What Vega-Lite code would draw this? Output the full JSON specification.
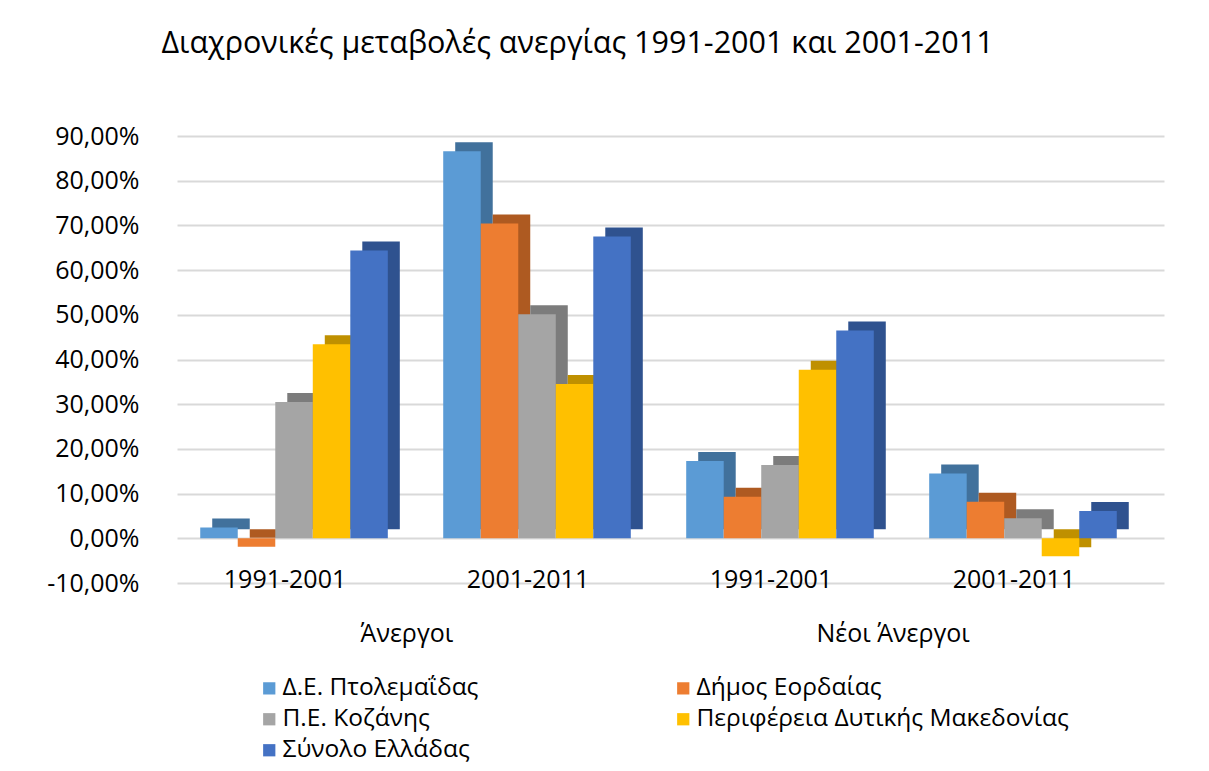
{
  "$schema": "https://vega.github.io/schema/vega-lite/v6.json",
  "autosize": {"type": "none"},
  "width": 987,
  "height": 447,
  "padding": {"left": 165, "top": 136, "right": 57, "bottom": 188},
  "background": "white",
  "config": {
    "font": "Open Sans",
    "view": {"stroke": null},
    "axis": {"labelFont": "Open Sans", "labelColor": "#000000"}
  },
  "title": {
    "text": "Διαχρονικές μεταβολές ανεργίας 1991-2001 και 2001-2011",
    "anchor": "middle",
    "frame": "group",
    "dx": -81,
    "offset": 65,
    "fontSize": 30.5,
    "fontWeight": "normal",
    "color": "#000000",
    "font": "Open Sans"
  },
  "data": {
    "values": [
      {"group": "Άνεργοι", "cat": "Άνεργοι 1991-2001", "series": "Δ.Ε. Πτολεμαΐδας", "value": 0.024},
      {"group": "Άνεργοι", "cat": "Άνεργοι 1991-2001", "series": "Δήμος Εορδαίας", "value": -0.019},
      {"group": "Άνεργοι", "cat": "Άνεργοι 1991-2001", "series": "Π.Ε. Κοζάνης", "value": 0.305},
      {"group": "Άνεργοι", "cat": "Άνεργοι 1991-2001", "series": "Περιφέρεια Δυτικής Μακεδονίας", "value": 0.434},
      {"group": "Άνεργοι", "cat": "Άνεργοι 1991-2001", "series": "Σύνολο Ελλάδας", "value": 0.644},
      {"group": "Άνεργοι", "cat": "Άνεργοι 2001-2011", "series": "Δ.Ε. Πτολεμαΐδας", "value": 0.866},
      {"group": "Άνεργοι", "cat": "Άνεργοι 2001-2011", "series": "Δήμος Εορδαίας", "value": 0.704},
      {"group": "Άνεργοι", "cat": "Άνεργοι 2001-2011", "series": "Π.Ε. Κοζάνης", "value": 0.501},
      {"group": "Άνεργοι", "cat": "Άνεργοι 2001-2011", "series": "Περιφέρεια Δυτικής Μακεδονίας", "value": 0.345},
      {"group": "Άνεργοι", "cat": "Άνεργοι 2001-2011", "series": "Σύνολο Ελλάδας", "value": 0.675},
      {"group": "Νέοι Άνεργοι", "cat": "Νέοι Άνεργοι 1991-2001", "series": "Δ.Ε. Πτολεμαΐδας", "value": 0.173},
      {"group": "Νέοι Άνεργοι", "cat": "Νέοι Άνεργοι 1991-2001", "series": "Δήμος Εορδαίας", "value": 0.093},
      {"group": "Νέοι Άνεργοι", "cat": "Νέοι Άνεργοι 1991-2001", "series": "Π.Ε. Κοζάνης", "value": 0.164},
      {"group": "Νέοι Άνεργοι", "cat": "Νέοι Άνεργοι 1991-2001", "series": "Περιφέρεια Δυτικής Μακεδονίας", "value": 0.377},
      {"group": "Νέοι Άνεργοι", "cat": "Νέοι Άνεργοι 1991-2001", "series": "Σύνολο Ελλάδας", "value": 0.465},
      {"group": "Νέοι Άνεργοι", "cat": "Νέοι Άνεργοι 2001-2011", "series": "Δ.Ε. Πτολεμαΐδας", "value": 0.145},
      {"group": "Νέοι Άνεργοι", "cat": "Νέοι Άνεργοι 2001-2011", "series": "Δήμος Εορδαίας", "value": 0.082},
      {"group": "Νέοι Άνεργοι", "cat": "Νέοι Άνεργοι 2001-2011", "series": "Π.Ε. Κοζάνης", "value": 0.045},
      {"group": "Νέοι Άνεργοι", "cat": "Νέοι Άνεργοι 2001-2011", "series": "Περιφέρεια Δυτικής Μακεδονίας", "value": -0.040},
      {"group": "Νέοι Άνεργοι", "cat": "Νέοι Άνεργοι 2001-2011", "series": "Σύνολο Ελλάδας", "value": 0.061}
    ]
  },
  "layer": [
    {
      "layer": [
        {
          "mark": {"type": "bar", "yOffset": -9},
          "encoding": {
            "x": {"field": "cat", "type": "nominal", "sort": null,
                  "scale": {"paddingInner": 0.228, "paddingOuter": 0.145, "range": [12, 999]},
                  "axis": null},
            "xOffset": {"field": "series", "type": "nominal",
                        "sort": ["Δ.Ε. Πτολεμαΐδας", "Δήμος Εορδαίας", "Π.Ε. Κοζάνης", "Περιφέρεια Δυτικής Μακεδονίας", "Σύνολο Ελλάδας"],
                        "scale": {"paddingInner": 0, "paddingOuter": 0}},
            "y": {"field": "value", "type": "quantitative",
                  "scale": {"domain": [-0.1, 0.9], "nice": false, "zero": true}},
            "color": {"field": "series", "type": "nominal", "legend": null,
                      "scale": {"domain": ["Δ.Ε. Πτολεμαΐδας", "Δήμος Εορδαίας", "Π.Ε. Κοζάνης", "Περιφέρεια Δυτικής Μακεδονίας", "Σύνολο Ελλάδας"],
                                "range": ["#41719C", "#AE5A21", "#7C7C7C", "#BF9000", "#2F528F"]}}
          }
        },
        {
          "mark": {"type": "bar"},
          "encoding": {
            "x": {"field": "cat", "type": "nominal", "sort": null,
                  "scale": {"paddingInner": 0.228, "paddingOuter": 0.145},
                  "axis": {"title": null, "orient": "bottom", "offset": -17, "domain": false, "ticks": false,
                           "labelAngle": 0, "labelFontSize": 25, "labelPadding": 1, "labelOffset": -9,
                           "labelExpr": "slice(datum.label, -9)"}},
            "xOffset": {"field": "series", "type": "nominal",
                        "sort": ["Δ.Ε. Πτολεμαΐδας", "Δήμος Εορδαίας", "Π.Ε. Κοζάνης", "Περιφέρεια Δυτικής Μακεδονίας", "Σύνολο Ελλάδας"],
                        "scale": {"paddingInner": 0, "paddingOuter": 0}},
            "y": {"field": "value", "type": "quantitative",
                  "scale": {"domain": [-0.1, 0.9], "nice": false, "zero": true},
                  "axis": {"title": null, "values": [-0.1, 0, 0.1, 0.2, 0.3, 0.4, 0.5, 0.6, 0.7, 0.8, 0.9],
                           "labelExpr": "replace(replace(format(datum.value, '.2%'), '.', ','), '−', '-')",
                           "labelFontSize": 25, "labelPadding": 26, "domain": false, "ticks": false,
                           "gridColor": "#D9D9D9", "gridWidth": 2}},
            "color": {"field": "series", "type": "nominal",
                      "scale": {"domain": ["Δ.Ε. Πτολεμαΐδας", "Δήμος Εορδαίας", "Π.Ε. Κοζάνης", "Περιφέρεια Δυτικής Μακεδονίας", "Σύνολο Ελλάδας"],
                                "range": ["#5B9BD5", "#ED7D31", "#A5A5A5", "#FFC000", "#4472C4"]},
                      "legend": {"title": null, "orient": "none", "legendX": 92, "legendY": 540,
                                 "direction": "horizontal", "columns": 2, "columnPadding": 192, "rowPadding": 6,
                                 "symbolType": "square", "symbolSize": 150, "symbolStrokeWidth": 0,
                                 "labelFontSize": 24.5, "labelFont": "Open Sans", "labelColor": "#000000",
                                 "labelOffset": 1, "labelLimit": 600, "padding": 0}}
          }
        }
      ],
      "resolve": {"scale": {"color": "independent", "x": "independent"}, "axis": {"x": "independent"}}
    },
    {
      "mark": {"type": "tick", "opacity": 0},
      "encoding": {
        "x": {"field": "group", "type": "nominal", "sort": null,
              "scale": {"type": "point", "padding": 0.515},
              "axis": {"title": null, "orient": "bottom", "offset": 36, "domain": false, "ticks": false,
                       "labelAngle": 0, "labelFontSize": 25, "labelOffset": -9, "grid": false}}
      }
    }
  ],
  "resolve": {"scale": {"x": "independent"}, "axis": {"x": "independent"}}
}
